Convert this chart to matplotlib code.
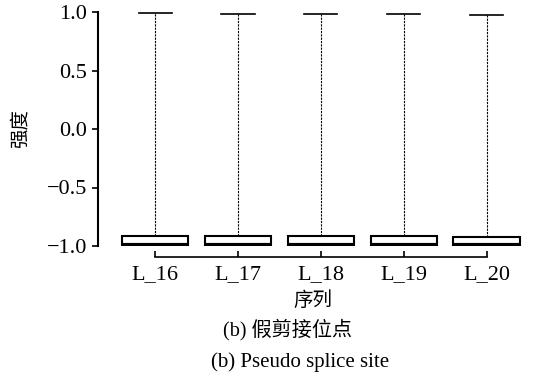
import numpy as np
import matplotlib
matplotlib.use('Agg')
import matplotlib.pyplot as plt

plt.rcParams['font.family'] = ['Liberation Serif', 'Noto Sans CJK SC']
plt.rcParams['axes.unicode_minus'] = True

# box summary values
labels = ['L_16', 'L_17', 'L_18', 'L_19', 'L_20']
whislo = [-1.0, -1.0, -1.0, -1.0, -1.0]
q1 = [-0.995, -0.995, -0.995, -0.995, -0.995]
med = [-0.99, -0.99, -0.99, -0.99, -0.99]
q3 = [-0.915, -0.915, -0.915, -0.915, -0.92]
whishi = [0.99, 0.985, 0.985, 0.98, 0.975]

stats = []
for i in range(len(labels)):
    stats.append({'label': labels[i], 'whislo': whislo[i], 'q1': q1[i], 'med': med[i],
                  'q3': q3[i], 'whishi': whishi[i], 'fliers': []})

fig = plt.figure(figsize=(5.35, 3.88), dpi=100)
ax = fig.add_axes([98 / 535, 1 - 246 / 388, (528 - 98) / 535, 234 / 388])

pos = np.arange(1, len(labels) + 1)
ax.bxp(stats, positions=pos, widths=0.8, showfliers=False, patch_artist=True,
       boxprops=dict(facecolor='white', edgecolor='black', linewidth=1.5),
       medianprops=dict(color='black', linewidth=3),
       whiskerprops=dict(color='black', linewidth=0.8, linestyle=(0, (2, 1))),
       capprops=dict(color='black', linewidth=1.2), capwidths=0.4)

ax.set_xlim(0.31, 5.5)
ax.set_ylim(-1.0, 1.0)
ax.set_yticks([-1.0, -0.5, 0.0, 0.5, 1.0])
ax.set_yticklabels(['\u22121.0', '\u22120.5', '0.0', '0.5', '1.0'])
ax.set_xticks(pos)
ax.set_xticklabels(labels)

for s in ['top', 'right']:
    ax.spines[s].set_visible(False)
ax.spines['left'].set_linewidth(1.5)
ax.spines['bottom'].set_linewidth(1.2)
ax.spines['bottom'].set_bounds(1, 5)
ax.spines['bottom'].set_position(('outward', 8))
ax.tick_params(axis='y', direction='out', length=4, width=1.2, labelsize=16, pad=4)
ax.tick_params(axis='x', direction='in', length=4, width=1.2, labelsize=16, pad=6)

ax.set_ylabel('强度', fontsize=14, labelpad=12)
ax.set_xlabel('序列', fontsize=14, labelpad=5)

fig.text(0.537, 1 - 330 / 388, '(b) 假剪接位点', ha='center', va='center', fontsize=14.5)
fig.text(0.56, 1 - 362 / 388, '(b) Pseudo splice site', ha='center', va='center', fontsize=15)

fig.savefig('out.png', dpi=100)
